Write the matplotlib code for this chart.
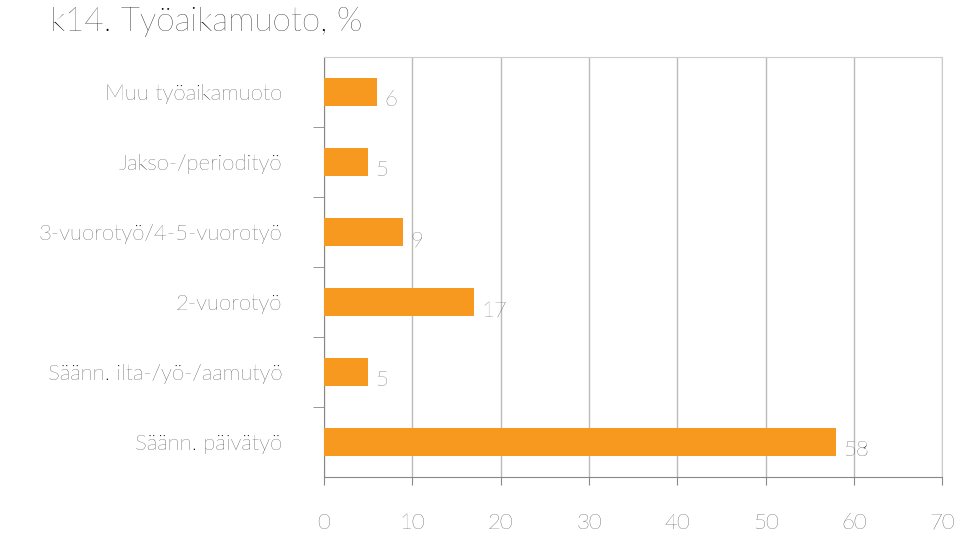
import matplotlib
matplotlib.use("Agg")
import matplotlib.pyplot as plt

categories = ["Säänn. päivätyö", "Säänn. ilta-/yö-/aamutyö", "2-vuorotyö",
              "3-vuorotyö/4-5-vuorotyö", "Jakso-/periodityö", "Muu työaikamuoto"]
values = [58, 5, 17, 9, 5, 6]
xticks = [0, 10, 20, 30, 40, 50, 60, 70]

plt.rcParams['font.family'] = ['Lato', 'DejaVu Sans']
plt.rcParams['font.weight'] = 'light'
fig = plt.figure(figsize=(9.6, 5.4), dpi=100)
ax = fig.add_axes([0.3375, 0.1167, 0.644, 0.778])
y = list(range(len(categories)))
ax.barh(y, values, height=0.4, color="#F7981F", zorder=3)
for yi, v in zip(y, values):
    ax.text(v + 0.8, yi - 0.12, str(v), fontsize=16, va="center", ha="left", color="#222222")
ax.set_xlim(0, 70)
ax.set_ylim(-0.5, len(categories) - 0.5)
ax.set_xticks(xticks)
ax.set_xticklabels([str(t) for t in xticks], fontsize=16)
ax.tick_params(axis="x", length=6, pad=20, color="#888888")
ax.set_yticks(y)
ax.set_yticklabels(categories, fontsize=16)
ax.tick_params(axis="y", length=0, pad=30)
ax.set_yticks([i + 0.5 for i in range(len(categories) - 1)], minor=True)
ax.tick_params(axis="y", which="minor", length=8, color="#888888")
ax.grid(axis="x", color="#bbbbbb", linewidth=1, zorder=0)
for s in ["top", "right"]:
    ax.spines[s].set_color("#cccccc")
for s in ["left", "bottom"]:
    ax.spines[s].set_color("#888888")
fig.text(0.052, 0.96, "k14. Työaikamuoto, %", fontsize=24, va="center", ha="left")
fig.savefig("out.png", dpi=100)
